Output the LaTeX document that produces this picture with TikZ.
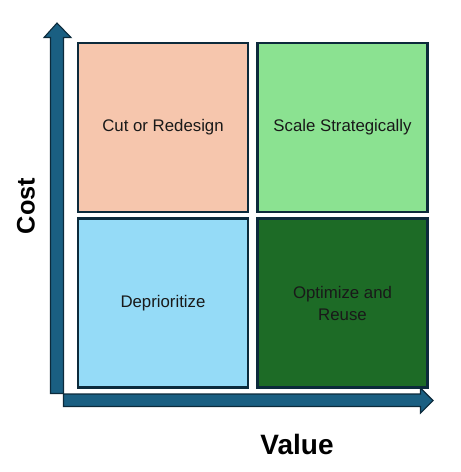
\documentclass[tikz,border=0pt]{standalone}
\usepackage{fontspec}
\setmainfont{Liberation Sans}
\usetikzlibrary{shapes.arrows}
\definecolor{arrowblue}{HTML}{1A5F82}
\definecolor{edge}{HTML}{0C2A3B}
\definecolor{peach}{HTML}{F6C6AD}
\definecolor{lgreen}{HTML}{8BE291}
\definecolor{lblue}{HTML}{95DBF7}
\definecolor{dgreen}{HTML}{1D6B26}
\tikzset{
  quad/.style={draw=edge, line width=1.6pt, minimum width=170*0.75pt, minimum height=169*0.75pt, inner sep=0pt, align=center, font=\fontsize{12.6}{16.5}\selectfont, text=black!90},
  axislabel/.style={font=\bfseries\fontsize{19}{22}\selectfont, text=black},
  axisarrow/.style={fill=arrowblue, draw=edge, line width=0.8pt}
}
\begin{document}
\begin{tikzpicture}[x=0.75pt,y=-0.75pt]
\useasboundingbox (0,0) rectangle (461,472);
% arrows
\draw[axisarrow] (50.5,393.5) -- (50.5,37.5) -- (44,37.5) -- (57,23) -- (71,37.5) -- (63.5,37.5) -- (63.5,393.5) -- cycle;
\draw[axisarrow] (63.5,394) -- (420.5,394) -- (420.5,388) -- (433,400.5) -- (420.5,413) -- (420.5,406.5) -- (63.5,406.5) -- cycle;
% quadrants
\node[quad, fill=peach] (tl) at (163,127.5) {Cut or Redesign};
\node[quad, fill=lgreen] (tr) at (342.5,127.5) {Scale Strategically};
\node[quad, fill=lblue] (bl) at (163,303) {Deprioritize};
\node[quad, fill=dgreen] (br) at (342.5,303) {Optimize and\\Reuse};
% labels
\node[axislabel, rotate=90] (cost) at (26,206) {Cost};
\node[axislabel, font=\bfseries\fontsize{21}{24}\selectfont] (value) at (297,444) {Value};
\end{tikzpicture}
\end{document}
